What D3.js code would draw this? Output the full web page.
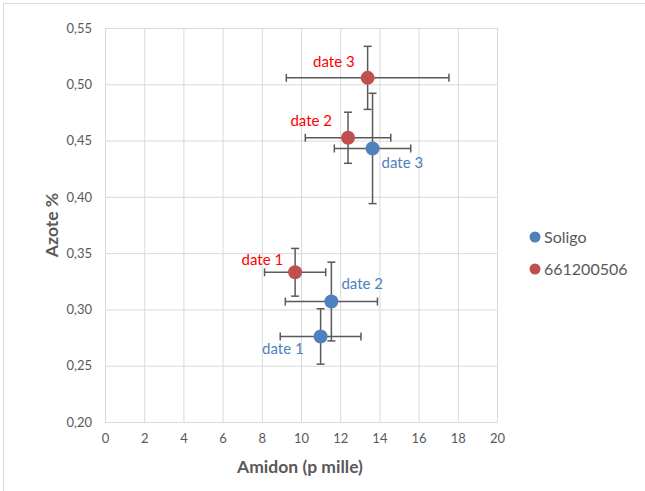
<!DOCTYPE html>
<html>
<head>
<meta charset="utf-8">
<script src="https://cdn.jsdelivr.net/npm/d3@7"></script>
<style>
  body { margin: 0; background: #fff; }
  svg text { font-family: Lato, "Open Sans", sans-serif; }
</style>
</head>
<body>
<svg id="chart" width="645" height="491"></svg>
<script>
// series names
const seriesNames = ["Soligo", "661200506"];
const pointLabels = ["date 1", "date 2", "date 3"];

// Soligo
const soligoX = [11.0, 11.55, 13.65];
const soligoY = [0.276, 0.307, 0.443];
const soligoXErr = [2.06, 2.35, 1.95];
const soligoYErr = [0.0246, 0.035, 0.049];

// 661200506
const redX = [9.7, 12.4, 13.4];
const redY = [0.333, 0.4525, 0.5057];
const redXErr = [1.56, 2.18, 4.15];
const redYErr = [0.0212, 0.0227, 0.028];

const xTicks = [0, 2, 4, 6, 8, 10, 12, 14, 16, 18, 20];
const yTicks = [0.20, 0.25, 0.30, 0.35, 0.40, 0.45, 0.50, 0.55];

const margin = { top: 28, left: 105 };
const width = 392, height = 394;

const x = d3.scaleLinear().domain([0, 20]).range([0, width]);
const y = d3.scaleLinear().domain([0.20, 0.55]).range([height, 0]);

const svg = d3.select("#chart");

// outer border (right/bottom edges fall outside the frame)
svg.append("rect")
  .attr("x", 3.5).attr("y", 3.5)
  .attr("width", 660).attr("height", 500)
  .attr("fill", "none").attr("stroke", "#d9d9d9");

const g = svg.append("g")
  .attr("transform", "translate(" + margin.left + "," + margin.top + ")");

// gridlines
g.append("g")
  .attr("transform", "translate(0," + height + ")")
  .call(d3.axisBottom(x).tickValues(xTicks).tickSize(-height).tickFormat(""))
  .call(a => a.select(".domain").remove())
  .selectAll("line").attr("stroke", "#d9d9d9");
g.append("g")
  .call(d3.axisLeft(y).tickValues(yTicks).tickSize(-width).tickFormat(""))
  .call(a => a.select(".domain").remove())
  .selectAll("line").attr("stroke", "#d9d9d9");

// axes (labels)
const fmt = d => d3.format(".2f")(d).replace(".", ",");
const xAxis = g.append("g")
  .attr("transform", "translate(0," + height + ")")
  .call(d3.axisBottom(x).tickValues(xTicks).tickSize(0).tickPadding(12));
xAxis.select(".domain").attr("stroke", "#d9d9d9");
xAxis.selectAll("text").attr("fill", "#595959").style("font-size", "13px");

const yAxis = g.append("g")
  .call(d3.axisLeft(y).tickValues(yTicks).tickSize(0).tickPadding(13).tickFormat(fmt));
yAxis.select(".domain").attr("stroke", "#d9d9d9");
yAxis.selectAll("text").attr("fill", "#595959").style("font-size", "13px");

// axis titles
svg.append("text")
  .attr("x", margin.left + width / 2 - 1).attr("y", 473)
  .attr("text-anchor", "middle")
  .attr("fill", "#595959").style("font-size", "17.5px").style("font-weight", "bold")
  .text("Amidon (p mille)");
svg.append("text")
  .attr("transform", "translate(58," + (margin.top + height / 2) + ") rotate(-90)")
  .attr("text-anchor", "middle")
  .attr("fill", "#595959").style("font-size", "17.5px").style("font-weight", "bold")
  .text("Azote %");

const series = [
  { xs: soligoX, ys: soligoY, xe: soligoXErr, ye: soligoYErr, color: "#4f81bd", text: "#4f81bd",
    lab: [{ dx: -17, dy: 18, a: "end" }, { dx: 10, dy: -13, a: "start" }, { dx: 9, dy: 20, a: "start" }] },
  { xs: redX, ys: redY, xe: redXErr, ye: redYErr, color: "#c0504d", text: "#ff0000",
    lab: [{ dx: -12, dy: -7, a: "end" }, { dx: -16, dy: -12, a: "end" }, { dx: -13, dy: -11, a: "end" }] }
];

const cap = 4;
series.forEach(s => {
  const d = s.xs.map((v, i) => ({ x: v, y: s.ys[i], xe: s.xe[i], ye: s.ye[i], l: s.lab[i], name: pointLabels[i] }));
  const eb = g.append("g").attr("stroke", "#595959").attr("stroke-width", 1.5);
  d.forEach(p => {
    const cx = x(p.x), cy = y(p.y);
    const x0 = x(p.x - p.xe), x1 = x(p.x + p.xe);
    const y0 = y(p.y - p.ye), y1 = y(p.y + p.ye);
    eb.append("line").attr("x1", x0).attr("x2", x1).attr("y1", cy).attr("y2", cy);
    eb.append("line").attr("x1", x0).attr("x2", x0).attr("y1", cy - cap).attr("y2", cy + cap);
    eb.append("line").attr("x1", x1).attr("x2", x1).attr("y1", cy - cap).attr("y2", cy + cap);
    eb.append("line").attr("x1", cx).attr("x2", cx).attr("y1", y0).attr("y2", y1);
    eb.append("line").attr("x1", cx - cap).attr("x2", cx + cap).attr("y1", y0).attr("y2", y0);
    eb.append("line").attr("x1", cx - cap).attr("x2", cx + cap).attr("y1", y1).attr("y2", y1);
  });
  s.d = d;
});

series.forEach(s => {
  g.selectAll(null).data(s.d).enter().append("circle")
    .attr("cx", p => x(p.x)).attr("cy", p => y(p.y)).attr("r", 7)
    .attr("fill", s.color);
  g.selectAll(null).data(s.d).enter().append("text")
    .attr("x", p => x(p.x) + p.l.dx).attr("y", p => y(p.y) + p.l.dy)
    .attr("text-anchor", p => p.l.a)
    .attr("fill", s.text).style("font-size", "15px")
    .text(p => p.name);
});

// legend
const legend = svg.append("g").attr("transform", "translate(535,237)");
seriesNames.forEach((n, i) => {
  const row = legend.append("g").attr("transform", "translate(0," + i * 32 + ")");
  row.append("circle").attr("r", 5.5).attr("fill", series[i].color);
  row.append("text").attr("x", 9).attr("y", 5.5).attr("fill", "#595959")
    .style("font-size", "16px").text(n);
});
</script>
</body>
</html>
